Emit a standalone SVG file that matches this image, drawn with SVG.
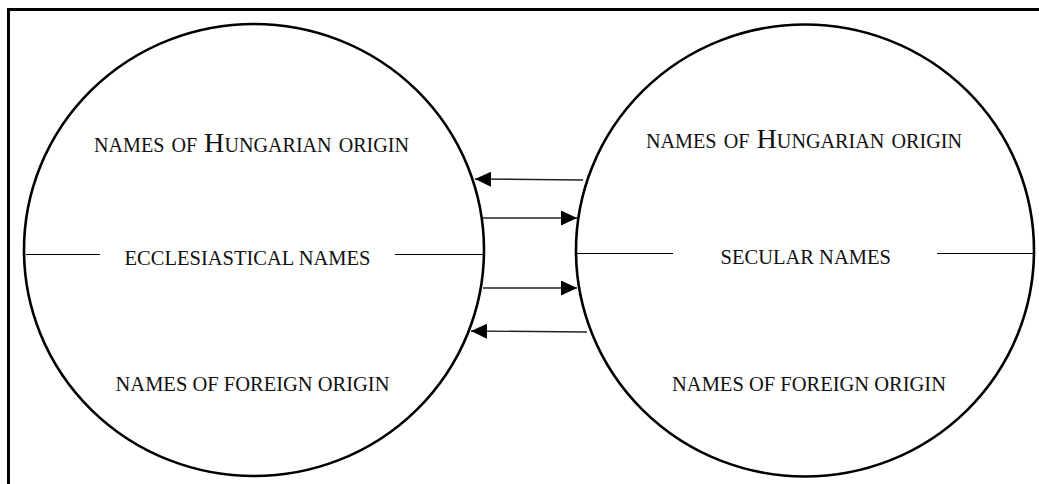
<svg xmlns="http://www.w3.org/2000/svg" width="1039" height="484" viewBox="0 0 1039 484">
  <style>
    .frame { fill: none; stroke: #000; stroke-width: 3; }
    .circle { fill: none; stroke: #000; stroke-width: 2.6; }
    .divider { stroke: #000; stroke-width: 1; }
    .conn { stroke: #222; stroke-width: 1.4; fill: none; }
    .lbl { font-family: "Liberation Serif", "Times New Roman", serif; font-size: 20.5px; fill: #111; text-anchor: middle; }
    .sc { font-family: "Liberation Serif", "Times New Roman", serif; font-size: 28px; font-variant: small-caps; fill: #111; text-anchor: middle; }
  </style>
  <defs>
    <marker id="arrow" markerUnits="userSpaceOnUse" markerWidth="17" markerHeight="15" refX="16" refY="7.5" orient="auto">
      <path d="M0,0 L16,7.5 L0,15 Z" fill="#000"/>
    </marker>
  </defs>
  <rect width="1039" height="484" fill="#fff"/>
  <rect class="frame" x="8.5" y="9.5" width="1100" height="520"/>

  <g id="ecclesiastical">
    <ellipse class="circle" cx="254" cy="250" rx="230" ry="226"/>
    <line class="divider" x1="26" y1="254.5" x2="100" y2="254.5"/>
    <line class="divider" x1="395" y1="254.5" x2="483" y2="254.5"/>
    <text class="sc" x="251.5" y="152" textLength="315" lengthAdjust="spacingAndGlyphs">names of Hungarian origin</text>
    <text class="lbl" x="247.5" y="265">ECCLESIASTICAL NAMES</text>
    <text class="lbl" x="252.5" y="391">NAMES OF FOREIGN ORIGIN</text>
  </g>

  <g id="secular">
    <ellipse class="circle" cx="805" cy="250.5" rx="229" ry="226"/>
    <line class="divider" x1="576" y1="253.5" x2="673" y2="253.5"/>
    <line class="divider" x1="937" y1="253.5" x2="1033" y2="253.5"/>
    <text class="sc" x="804" y="148" textLength="316" lengthAdjust="spacingAndGlyphs">names of Hungarian origin</text>
    <text class="lbl" x="805.7" y="264">SECULAR NAMES</text>
    <text class="lbl" x="809" y="391">NAMES OF FOREIGN ORIGIN</text>
  </g>

  <g id="connectors">
    <line class="conn" x1="583" y1="180" x2="475" y2="179" marker-end="url(#arrow)"/>
    <line class="conn" x1="483" y1="218" x2="577" y2="218" marker-end="url(#arrow)"/>
    <line class="conn" x1="483" y1="288" x2="577" y2="288" marker-end="url(#arrow)"/>
    <line class="conn" x1="587" y1="332" x2="471" y2="331" marker-end="url(#arrow)"/>
  </g>
</svg>
